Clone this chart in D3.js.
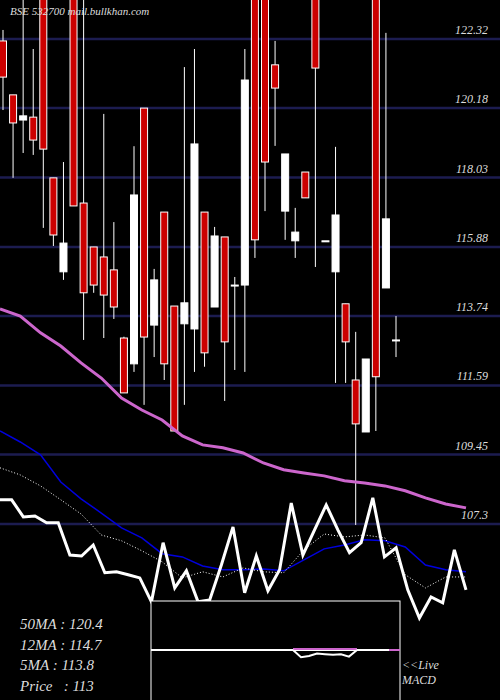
<!DOCTYPE html><html><head><meta charset="utf-8"><script src="https://cdn.jsdelivr.net/npm/d3@7"></script>
<style>body{margin:0;background:#000}svg{display:block}</style></head><body><svg id="c" width="500" height="700"></svg>
<script>
const ticks=[122.32,120.18,118.03,115.88,113.74,111.59,109.45,107.3];
const open=[122.26,120.59,119.81,119.9,124.5,118.02,115.11,124.8,117.24,115.88,115.57,115.17,113.06,112.26,120.18,113.46,116.96,114.05,113.5,113.34,116.96,114.02,116.19,114.7,114.7,124.6,124.5,121.52,116.99,116.07,118.2,124.5,116.07,115.11,114.12,111.76,110.15,124.6,114.61,113.0];
const high=[122.6,120.59,123.6,122.01,124.5,118.02,118.51,124.8,124.5,115.88,120.0,116.65,113.1,119.0,120.18,115.2,116.96,114.05,121.45,122.01,116.96,116.5,116.19,114.95,122.01,124.6,124.5,122.26,118.76,117.09,118.2,124.5,116.07,118.98,114.12,113.25,112.41,124.6,122.51,113.74];
const low=[120.12,118.02,118.79,118.73,116.47,115.91,114.86,117.15,113.0,114.46,113.06,113.65,111.36,112.01,110.99,112.47,111.76,110.18,110.99,112.01,112.17,114.02,111.11,112.07,112.01,115.54,116.99,119.01,116.1,115.54,117.4,115.26,116.07,111.67,111.67,107.27,110.15,110.18,114.61,112.47];
const close=[121.14,119.72,119.94,119.19,118.91,116.25,116.0,117.15,114.46,114.7,114.39,114.02,111.36,117.49,113.09,114.86,112.26,110.18,114.15,119.07,112.6,116.22,112.94,114.7,121.05,116.1,118.51,120.8,118.76,116.34,117.4,121.42,116.07,116.87,112.94,110.4,112.41,111.86,116.75,113.0];
const ma50=[113.96,113.74,113.22,112.81,112.29,111.82,111.2,110.83,110.52,110.03,109.75,109.66,109.5,109.19,108.98,108.88,108.79,108.64,108.57,108.48,108.33,108.11,107.92,107.8];
const ma12=[110.18,109.84,109.44,108.6,108.08,107.64,107.18,106.87,106.38,106.28,106.0,105.88,105.88,105.91,105.85,106.19,106.53,106.65,106.81,106.78,106.59,106.03,105.88,105.82];
const ma5=[109.04,108.82,108.48,108.05,107.61,106.96,106.78,106.47,106.13,105.63,105.82,105.66,105.94,105.82,105.79,106.5,106.99,106.9,106.96,106.87,105.73,105.32,105.66,105.66];
const price=[108.05,108.05,107.52,107.55,107.34,107.34,106.34,106.31,106.65,105.79,105.82,105.73,105.63,104.89,106.72,105.32,105.85,104.89,104.95,106.03,107.21,105.17,106.31,105.23,105.88,107.95,106.34,107.12,107.89,107.12,106.41,106.72,108.11,106.28,106.56,105.26,104.39,105.04,104.86,106.5,105.26];
const macd=[0,-0.6,-0.5,-0.3,-0.35,-0.4,-0.35,-0.55,0];
const legend=["50MA : 120.4","12MA : 114.7","5MA : 113.8","Price   : 113"];

const svg=d3.select("#c");
const y=d3.scaleLinear().domain([122.32,107.3]).range([39,524]);
const x=d3.scaleLinear().domain([0,open.length-1]).range([3,396]);
const xl=n=>d3.scaleLinear().domain([0,n-1]).range([0,466]);
const F="'Liberation Serif',serif";
svg.append("rect").attr("width",500).attr("height",700).attr("fill","#000");
svg.selectAll(".g").data(ticks).enter().append("line").attr("x1",0).attr("x2",500)
 .attr("y1",d=>y(d)).attr("y2",d=>y(d)).attr("stroke","#1c1c50").attr("stroke-width",2.5);
svg.selectAll(".t").data(ticks).enter().append("text").attr("x",488).attr("y",d=>y(d)-5)
 .attr("text-anchor","end").attr("fill","#ddd").attr("font-family",F).attr("font-style","italic").attr("font-size",12).text(d=>d);
const idx=d3.range(open.length);
svg.selectAll(".w").data(idx).enter().append("line").attr("x1",i=>x(i)).attr("x2",i=>x(i))
 .attr("y1",i=>y(high[i])).attr("y2",i=>y(low[i])).attr("stroke","#fff").attr("stroke-width",1);
svg.selectAll(".b").data(idx).enter().append("rect").attr("x",i=>x(i)-3.5).attr("width",7)
 .attr("y",i=>y(Math.max(open[i],close[i]))).attr("height",i=>Math.max(1,Math.abs(y(open[i])-y(close[i]))))
 .attr("fill",i=>close[i]<open[i]?"#cc0000":"#fff").attr("stroke","#fff").attr("stroke-width",1);
function ln(arr,col,w,dash){const s=xl(arr.length);svg.append("path").datum(arr).attr("fill","none").attr("stroke",col).attr("stroke-width",w)
 .attr("stroke-dasharray",dash||null).attr("d",d3.line().x((d,i)=>s(i)).y(d=>y(d)));}
ln(ma50,"#cc66cc",3);ln(ma12,"#0000dd",1.5);ln(ma5,"#fff",1,"1,2");ln(price,"#fff",3);
svg.append("text").attr("x",10).attr("y",15).attr("fill","#ddd").attr("font-family",F).attr("font-style","italic").attr("font-size",11).text("BSE 532700 mail.bullkhan.com");
svg.append("rect").attr("x",151).attr("y",601).attr("width",249).attr("height",110).attr("fill","#000").attr("stroke","#fff");
svg.append("line").attr("x1",151).attr("x2",389).attr("y1",650).attr("y2",650).attr("stroke","#fff").attr("stroke-width",2);
svg.append("line").attr("x1",389).attr("x2",400).attr("y1",650).attr("y2",650).attr("stroke","#cc66cc").attr("stroke-width",2);
svg.append("line").attr("x1",293).attr("x2",357).attr("y1",649).attr("y2",649).attr("stroke","#cc66cc").attr("stroke-width",2);
const mx=d3.scaleLinear().domain([0,macd.length-1]).range([293,357]), my=d3.scaleLinear().domain([0,-1]).range([650,662]);
svg.append("path").datum(macd).attr("fill","none").attr("stroke","#fff").attr("stroke-width",2).attr("d",d3.line().x((d,i)=>mx(i)).y(d=>my(d)));
svg.append("text").attr("x",402).attr("y",669).attr("fill","#ddd").attr("font-family",F).attr("font-style","italic").attr("font-size",12).text("<<Live");
svg.append("text").attr("x",402).attr("y",684).attr("fill","#ddd").attr("font-family",F).attr("font-style","italic").attr("font-size",12).text("MACD");
svg.selectAll(".l").data(legend).enter().append("text").attr("x",20).attr("y",(d,i)=>629+i*20.5)
 .attr("fill","#ddd").attr("font-family",F).attr("font-style","italic").attr("font-size",15).style("white-space","pre").text(d=>d);
</script></body></html>
